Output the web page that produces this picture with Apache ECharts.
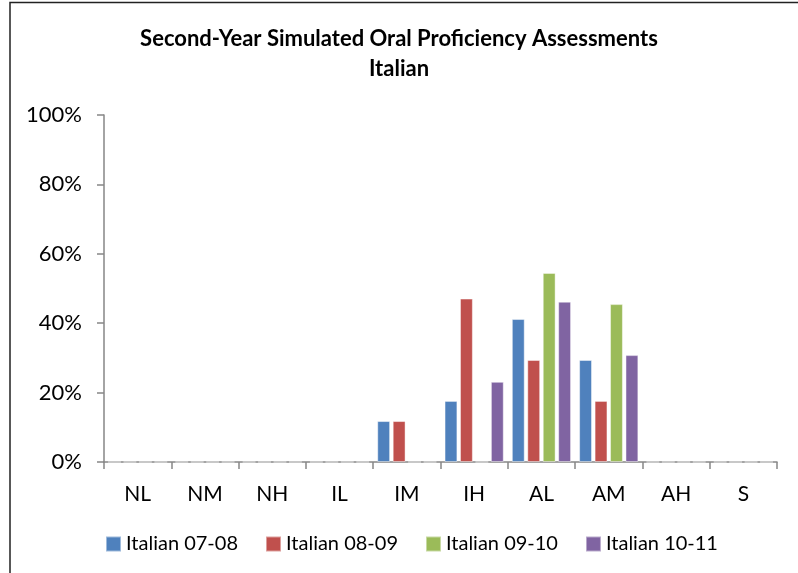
<!DOCTYPE html>
<html>
<head>
<meta charset="utf-8">
<script src="https://cdn.jsdelivr.net/npm/echarts@6/dist/echarts.min.js"></script>
<style>
  html, body { margin: 0; padding: 0; background: #fff; }
  #main { width: 798px; height: 573px; }
</style>
</head>
<body>
<div id="main"></div>
<script>
// 等级类别
var levels = ['NL', 'NM', 'NH', 'IL', 'IM', 'IH', 'AL', 'AM', 'AH', 'S'];
// 各年度比例
var it0708 = [0, 0, 0, 0, 0.118, 0.176, 0.412, 0.294, 0, 0];
var it0809 = [0, 0, 0, 0, 0.118, 0.471, 0.294, 0.176, 0, 0];
var it0910 = [0, 0, 0, 0, 0, 0, 0.545, 0.455, 0, 0];
var it1011 = [0, 0, 0, 0, 0, 0.231, 0.462, 0.308, 0, 0];

var FONT = 'Lato';
var chart = echarts.init(document.getElementById('main'));

function bar(name, data, color) {
    return {
        name: name,
        type: 'bar',
        data: data,
        barGap: '20%',
        barCategoryGap: '12%',
        itemStyle: { color: color, borderColor: 'rgba(255,255,255,0.45)', borderWidth: 1 }
    };
}

var option = {
    backgroundColor: '#fff',
    animation: false,
    title: {
        text: 'Second-Year Simulated Oral Proficiency Assessments\nItalian',
        left: 'center',
        top: 24,
        padding: 0,
        textStyle: { fontFamily: FONT, fontWeight: 'bold', fontSize: 22, lineHeight: 30, color: '#000' }
    },
    legend: {
        top: 534,
        left: 105,
        padding: 0,
        itemWidth: 15,
        itemHeight: 15,
        itemGap: 27,
        icon: 'rect',
        textStyle: { fontFamily: FONT, fontSize: 20, color: '#000', width: 114 },
        data: ['Italian 07-08', 'Italian 08-09', 'Italian 09-10', 'Italian 10-11']
    },
    grid: { left: 104, right: 21, top: 115, bottom: 111 },
    xAxis: {
        type: 'category',
        data: levels,
        boundaryGap: true,
        axisLine: { lineStyle: { color: '#868686', width: 1.5 } },
        axisTick: { show: true, length: 7, lineStyle: { color: '#868686', width: 1.5 } },
        axisLabel: { margin: 22, fontFamily: FONT, fontSize: 21, color: '#000' }
    },
    yAxis: {
        type: 'value',
        min: 0,
        max: 1,
        interval: 0.2,
        splitLine: { show: false },
        axisLine: { show: true, lineStyle: { color: '#868686', width: 1.5 } },
        axisTick: { show: true, length: 7, lineStyle: { color: '#868686', width: 1.5 } },
        axisLabel: {
            margin: 22, fontFamily: FONT, fontSize: 22, color: '#000',
            formatter: function (v) { return Math.round(v * 100) + '%'; }
        }
    },
    series: [
        bar('Italian 07-08', it0708, '#4F81BD'),
        bar('Italian 08-09', it0809, '#C0504D'),
        bar('Italian 09-10', it0910, '#9BBB59'),
        bar('Italian 10-11', it1011, '#8064A2')
    ],
    graphic: [{
        type: 'polyline',
        shape: { points: [[10, 573], [10, 2.5], [798, 2.5]] },
        style: { stroke: '#222', lineWidth: 1.5, fill: null },
        silent: true
    }]
};
chart.setOption(option);
</script>
</body>
</html>
